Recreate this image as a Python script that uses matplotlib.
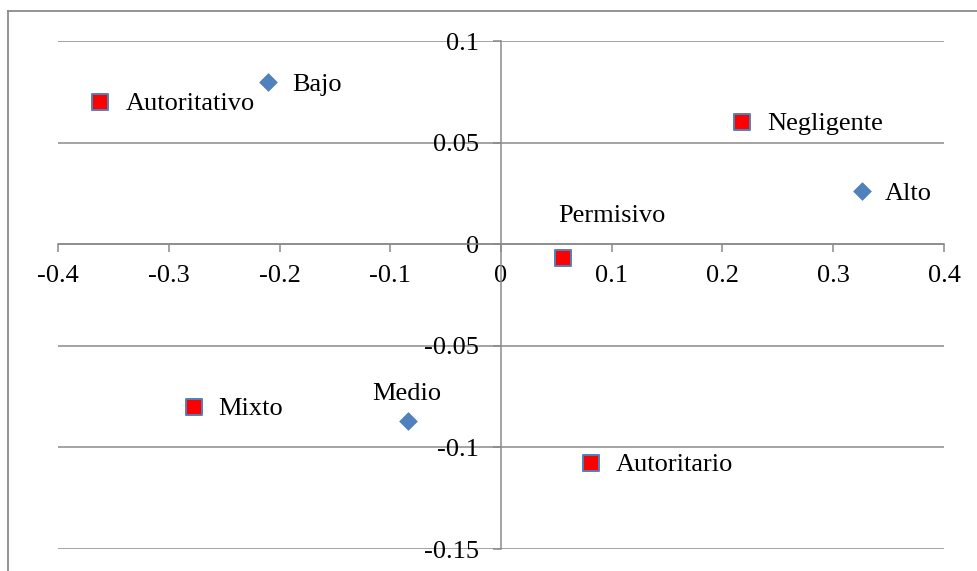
import matplotlib
matplotlib.use('Agg')
import matplotlib.pyplot as plt
from matplotlib.lines import Line2D

# estilos parentales (cuadrados rojos)
estilos = ['Autoritativo', 'Negligente', 'Permisivo', 'Mixto', 'Autoritario']
estilos_x = [-0.362, 0.218, 0.056, -0.277, 0.081]
estilos_y = [0.070, 0.060, -0.007, -0.080, -0.1075]

# niveles (rombos azules)
niveles = ['Bajo', 'Alto', 'Medio']
niveles_x = [-0.210, 0.326, -0.084]
niveles_y = [0.080, 0.026, -0.087]

x_ticks = [-0.4, -0.3, -0.2, -0.1, 0, 0.1, 0.2, 0.3, 0.4]
x_labels = ['-0.4', '-0.3', '-0.2', '-0.1', '0', '0.1', '0.2', '0.3', '0.4']
y_ticks = [-0.15, -0.1, -0.05, 0, 0.05, 0.1]
y_labels = ['-0.15', '-0.1', '-0.05', '0', '0.05', '0.1']

plt.rcParams['font.family'] = ['Liberation Serif', 'DejaVu Serif']
gris = '#8a8a8a'

fig = plt.figure(figsize=(9.78, 5.71), dpi=100)
ax = fig.add_axes([58 / 978, 22 / 571, 886 / 978, 508 / 571])
ax.set_xlim(-0.4, 0.4)
ax.set_ylim(-0.15, 0.1)

# marco exterior del grafico
fig.add_artist(Line2D([8 / 978, 8 / 978], [0, 1 - 11 / 571], color=gris, lw=1.3))
fig.add_artist(Line2D([8 / 978, 1], [1 - 11 / 571, 1 - 11 / 571], color=gris, lw=1.3))

for s in ['top', 'right']:
    ax.spines[s].set_visible(False)
ax.spines['left'].set_position(('data', 0))
ax.spines['bottom'].set_position(('data', 0))
for s in ['left', 'bottom']:
    ax.spines[s].set_color(gris)
    ax.spines[s].set_linewidth(1.1)

ax.set_xticks(x_ticks)
ax.set_xticklabels(x_labels)
ax.set_yticks(y_ticks)
ax.set_yticklabels(y_labels)
ax.tick_params(axis='x', direction='out', length=6, width=1.1, color=gris,
               labelsize=19, pad=9)
ax.tick_params(axis='y', direction='out', length=6, width=1.1, color=gris,
               labelsize=19, pad=10)
for lbl in ax.get_yticklabels():
    lbl.set_va('center_baseline')
ax.grid(axis='y', color=gris, lw=1.1)
ax.set_axisbelow(True)

ax.scatter(estilos_x, estilos_y, marker='s', s=11.5 ** 2, c='#ff0000',
           edgecolors='#4f81bd', linewidths=1.4, zorder=3)
ax.scatter(niveles_x, niveles_y, marker='D', s=9 ** 2, c='#4f81bd',
           edgecolors='#4f81bd', linewidths=0.5, zorder=3)

# posicion de cada etiqueta respecto a su punto (pixeles)
offsets = {
    'Autoritativo': (26, -2), 'Negligente': (25, -2), 'Permisivo': (-5, 42),
    'Mixto': (24, -2), 'Autoritario': (25, -2),
    'Bajo': (24, -3), 'Alto': (23, -3), 'Medio': (-36, 27),
}
for nombre, x, y in zip(estilos + niveles, estilos_x + niveles_x, estilos_y + niveles_y):
    ax.annotate(nombre, (x, y), xytext=offsets[nombre], textcoords='offset pixels',
                ha='left', va='center', fontsize=19, color='black', zorder=4)

fig.savefig('out.png', dpi=100)
